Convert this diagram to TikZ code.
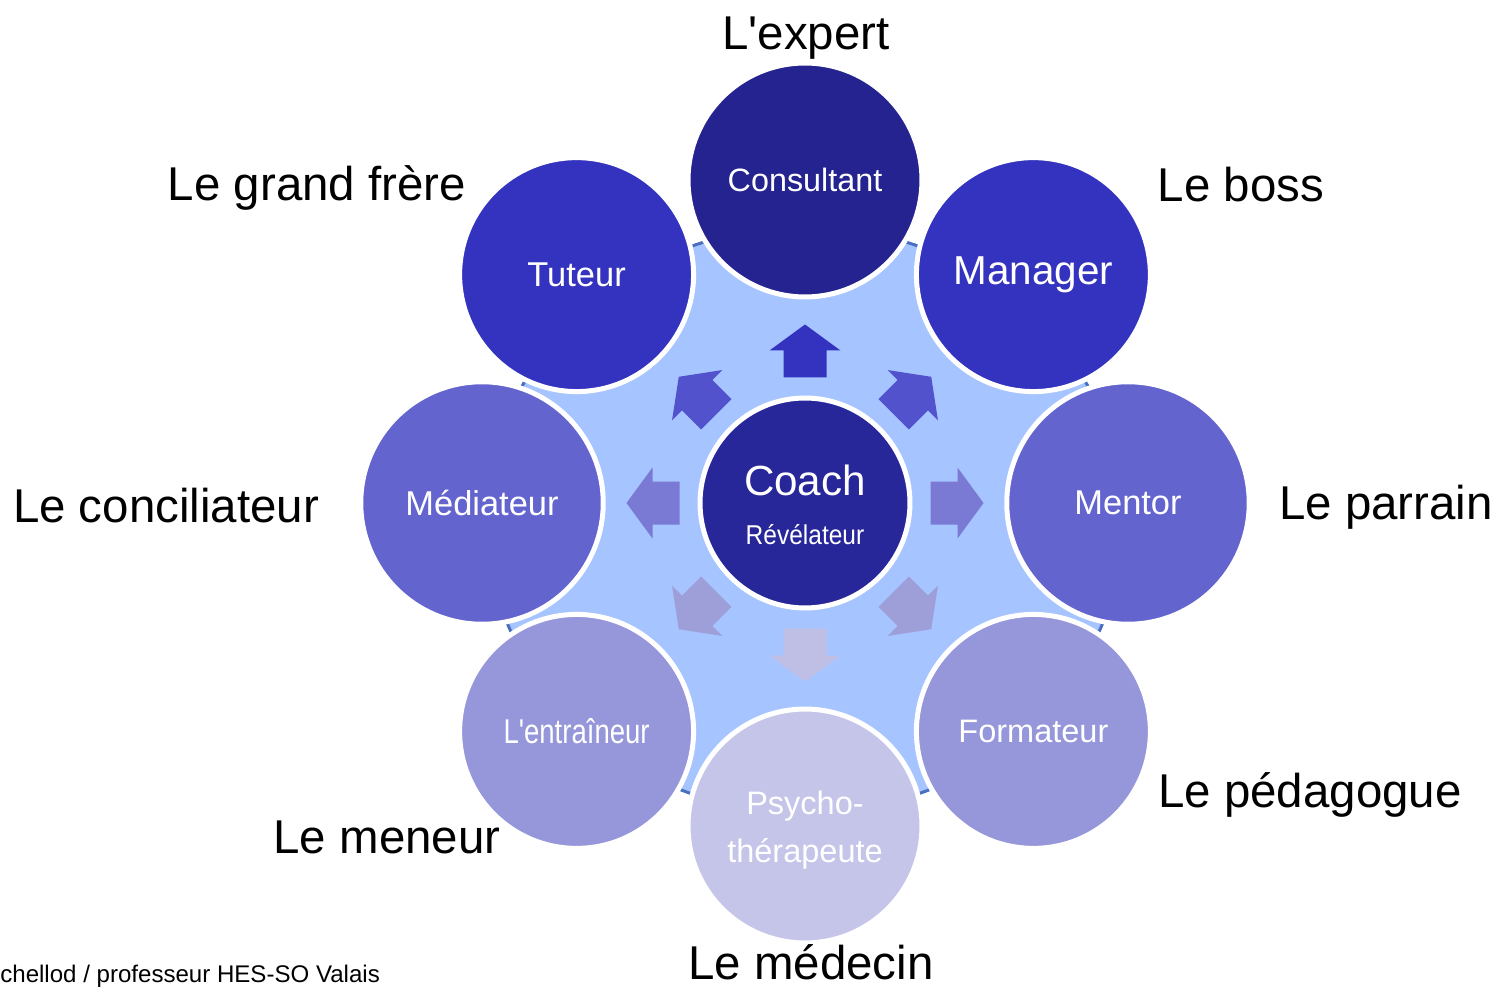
\documentclass[tikz,border=0pt]{standalone}
\usepackage{fontspec}
\setmainfont{Liberation Sans}
\usepackage{graphicx}
\usetikzlibrary{positioning}

\definecolor{ringblue}{HTML}{A6C4FF}
\definecolor{ringedge}{HTML}{4A6FBF}
\definecolor{navy}{HTML}{24238F}
\definecolor{coachblue}{HTML}{28279A}
\definecolor{roleA}{HTML}{3333BF}
\definecolor{roleB}{HTML}{6464CF}
\definecolor{roleC}{HTML}{9696DA}
\definecolor{roleD}{HTML}{C5C5E9}
\definecolor{arrA}{HTML}{3333C0}
\definecolor{arrB}{HTML}{5252CC}
\definecolor{arrC}{HTML}{7A7AD4}
\definecolor{arrD}{HTML}{9E9ED9}
\definecolor{arrE}{HTML}{BFBFE6}

\tikzset{
  role/.style={circle, draw=white, line width=0.1cm, minimum size=4.68cm,
    inner sep=0pt, text=white, font=\fontsize{19.6}{23}\selectfont, align=center},
  outer/.style={anchor=base, inner sep=1pt, font=\fontsize{27}{32}\selectfont},
}

\begin{document}
\begin{tikzpicture}[x=0.02cm, y=0.02cm]
	\useasboundingbox (-805,-487) rectangle (691,503);
	% background disc
	\draw[ringedge, fill=ringblue, line width=0.06cm] (0,-17) ellipse (318 and 293);
	% arrows from the coach outwards
	\foreach \a/\c in {90/arrA, 45/arrB, 135/arrB, 0/arrC, 180/arrC, -45/arrD, -135/arrD, -90/arrE}
		\fill[\c, rotate=\a, shift={(152,0)}] (-26.5,-21.5)--(0.5,-21.5)--(0.5,-35.5)--(26.5,0)
			--(0.5,35.5)--(0.5,21.5)--(-26.5,21.5)--cycle;
	% roles
	\node[role, fill=navy, font=\fontsize{18.4}{22}\selectfont] (consultant) at (90:323) {Consultant};
	\node[role, fill=roleA, font=\fontsize{23}{27}\selectfont] (manager) at (45:323) {Manager};
	\node[role, fill=roleB, minimum size=4.85cm] (mentor) at (0:323) {Mentor};
	\node[role, fill=roleC, font=\fontsize{18.5}{22}\selectfont] (formateur) at (-45:323) {Formateur};
	\node[role, fill=roleD] (psycho) at (-90:323) {};
	\node[text=white, align=center, font=\fontsize{18.5}{27}\selectfont] (psychotxt) at (0,-327) {Psycho-\\thérapeute};
	\node[role, fill=roleC] (entraineur) at (-135:323) {\scalebox{0.8}[1]{L\textquotesingle entraîneur}};
	\node[role, fill=roleB, minimum size=4.85cm] (mediateur) at (180:323) {Médiateur};
	\node[role, fill=roleA] (tuteur) at (135:323) {Tuteur};
	\node[role, fill=coachblue, minimum size=4.2cm] (coach) at (0,0) {};
	\node[text=white, font=\fontsize{24}{29}\selectfont] (coachtxt) at (0,23) {Coach};
	\node[text=white, font=\fontsize{15.5}{18}\selectfont] (revel) at (0,-32) {\scalebox{0.9}[1]{Révélateur}};
	% outer labels
	\node[outer] (expert) at (1,453) {L\textquotesingle expert};
	\node[outer] (frere) at (-488,302) {Le grand frère};
	\node[outer] (boss) at (436,301) {Le boss};
	\node[outer] (concil) at (-639,-19) {Le conciliateur};
	\node[outer] (parrain) at (581,-16) {Le parrain};
	\node[outer] (pedago) at (505,-304) {Le pédagogue};
	\node[outer] (meneur) at (-418,-350) {Le meneur};
	\node[outer, inner sep=0pt] (medecin) at (6,-476) {Le médecin};
	\node[anchor=base west, inner sep=0pt, font=\fontsize{13.7}{16}\selectfont] (footer) at (-805,-479) {chellod / professeur HES-SO Valais};
\end{tikzpicture}
\end{document}
